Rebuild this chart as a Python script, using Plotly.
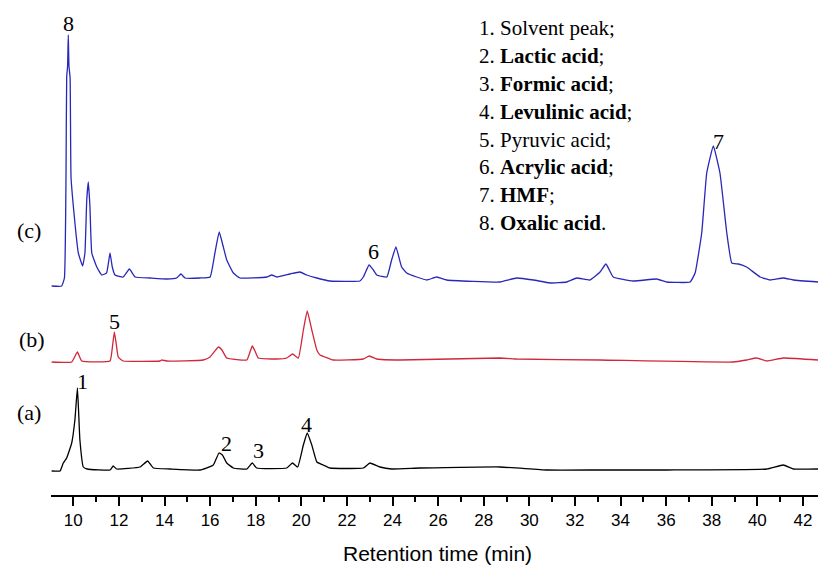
import plotly.graph_objects as go

# ---- data: retention time (min) and detector signal (arbitrary units above each trace's baseline)
t_a = [9.05, 9.42, 9.56, 9.71, 9.93, 10.07, 10.18, 10.23, 10.29, 10.44, 10.61, 11.61, 11.75, 11.90,
       12.93, 13.26, 13.51, 14.24, 15.56, 16.14, 16.39, 16.54, 16.73, 17.02, 17.61, 17.85, 18.04,
       19.36, 19.61, 19.84, 20.09, 20.26, 20.46, 20.68, 20.96, 21.26, 22.72, 23.01, 23.45, 23.96,
       25.21, 28.71, 30.76, 33.10, 36.03, 40.41, 41.14, 41.58, 42.66]
s_a = [-1, -1, 7, 12, 27, 50, 82, 60, 30, 3, 1, 0, 4, 1,
       3, 9, 2, 1, 0, 5, 17, 15, 7, 2, 1, 7, 2,
       2, 7, 3, 25, 37, 25, 8, 5, 2, 2, 7, 3, 1,
       2, 3, 0, 0, 0, 1, 5, 1, 1]

t_b = [9.05, 9.93, 10.18, 10.37, 11.61, 11.70, 11.80, 11.89, 11.97, 12.19, 13.80, 13.88, 14.10,
       15.70, 16.00, 16.36, 16.52, 16.73, 17.61, 17.75, 17.85, 17.97, 18.11, 18.92, 19.36, 19.62,
       19.87, 20.09, 20.26, 20.46, 20.68, 20.82, 21.04, 21.40, 22.72, 22.98, 23.31, 24.33, 28.71,
       29.45, 33.10, 38.93, 39.53, 39.97, 40.41, 41.14, 42.66]
s_b = [-1, -1, 9, 0, 0, 11, 29, 16, 4, 0, 0, 1, 0,
       1, 4, 14, 11, 3, 1, 9, 15, 10, 3, 2, 3, 7,
       3, 31, 50, 31, 11, 6, 4, 1, 2, 5, 2, 1, 3,
       2, 1, -1, 1, 3, 0, 3, 1]

t_c = [9.05, 9.49, 9.61, 9.68, 9.71, 9.75, 9.78, 9.81, 9.86, 9.90, 10.03, 10.22, 10.41, 10.51, 10.59, 10.66,
       10.73, 10.81, 11.03, 11.25, 11.46, 11.54, 11.61, 11.71, 11.83, 12.19, 12.46, 12.71, 13.36,
       14.10, 14.53, 14.72, 14.90, 15.56, 16.00, 16.21, 16.40, 16.58, 16.73, 17.02, 17.31, 18.48,
       18.70, 18.92, 19.50, 19.94, 20.24, 20.68, 21.26, 22.57, 22.72, 22.97, 23.16, 23.31, 23.75,
       23.96, 24.15, 24.40, 24.62, 25.06, 25.50, 25.94, 26.38, 28.71, 29.45, 30.18, 30.91, 31.64,
       32.08, 32.66, 33.10, 33.36, 33.68, 34.56, 35.59, 36.03, 37.05, 37.27, 37.56, 37.78, 38.07,
       38.36, 38.66, 38.88, 39.17, 39.53, 40.12, 40.56, 41.14, 41.58, 42.66]
s_c = [-8, -8, 0, 101, 201, 212, 243, 212, 200, 101, 65, 25, 12, 25, 78, 96,
       71, 25, 11, 3, 5, 15, 25, 11, 3, 1, 9, 1, 0,
       -1, 0, 4, 0, 0, 1, 25, 46, 31, 18, 5, 0, 1,
       3, 1, 4, 6, 3, 0, -3, -3, 1, 13, 8, 3, 1,
       18, 31, 11, 5, 1, -2, 1, -2, -4, 0, -2, -5, -4,
       0, -2, 6, 14, 1, -3, -1, -4, -4, 5, 45, 105, 132,
       105, 45, 15, 14, 11, 1, -2, 0, -2, -4]

peak_labels = ["8", "1", "5", "2", "3", "4", "6", "7"]
peak_times = [9.78, 10.41, 11.80, 16.73, 18.11, 20.24, 23.16, 38.29]
trace_labels = ["(c)", "(b)", "(a)"]
x_title = "Retention time (min)"
legend_lines = [
    "1. Solvent peak;",
    "2. <b>Lactic acid</b>;",
    "3. <b>Formic acid</b>;",
    "4. <b>Levulinic acid</b>;",
    "5. Pyruvic acid;",
    "6. <b>Acrylic acid</b>;",
    "7. <b>HMF</b>;",
    "8. <b>Oxalic acid</b>.",
]

# vertical offsets (stacking) for the three chromatograms
off_a, off_b, off_c = 25, 134, 217

fig = go.Figure()
for t, s, off, col in [(t_a, s_a, off_a, "#000000"),
                       (t_b, s_b, off_b, "#d0283a"),
                       (t_c, s_c, off_c, "#2828b8")]:
    fig.add_trace(go.Scatter(x=t, y=[v + off for v in s], mode="lines",
                             line=dict(color=col, width=1.3, shape="spline", smoothing=0.35),
                             showlegend=False, hoverinfo="skip"))

serif = "Liberation Serif, Times New Roman, serif"
sans = "Liberation Sans, Arial, sans-serif"
peak_y = [472, 113.3, 173.3, 51.7, 44.3, 71, 243.3, 353.3]
for lab, x, y in zip(peak_labels, peak_times, peak_y):
    fig.add_annotation(x=x, y=y, text=lab, showarrow=False, xanchor="center", yanchor="middle",
                       font=dict(family=serif, size=22, color="black"))

# sample labels sit left of the plotting area -> paper x coordinates (negative = margin)
for lab, x, y in zip(trace_labels, [-0.0283, -0.0244, -0.0281], [265, 156, 83]):
    fig.add_annotation(x=x, xref="paper", y=y, text=lab, showarrow=False,
                       xanchor="center", yanchor="middle",
                       font=dict(family=serif, size=22, color="black"))

for i, line in enumerate(legend_lines):
    fig.add_annotation(x=27.69, y=466.7 - 27.8 * i, text=line, showarrow=False,
                       xanchor="left", yanchor="middle",
                       font=dict(family=serif, size=21, color="black"))

# x-axis title placed as paper annotation below the tick labels
fig.add_annotation(x=0.504, xref="paper", y=-0.118, yref="paper", text=x_title, showarrow=False,
                   xanchor="center", yanchor="middle",
                   font=dict(family=sans, size=21, color="black"))

fig.update_layout(
    width=818, height=566,
    margin=dict(l=51, r=0, t=0, b=71, autoexpand=False),
    plot_bgcolor="white", paper_bgcolor="white",
    xaxis=dict(range=[9.022, 42.66], showgrid=False, zeroline=False, automargin=False,
               showline=True, linecolor="black", linewidth=2,
               ticks="outside", ticklen=9, tickwidth=1.8, tickcolor="black",
               dtick=2, tick0=10,
               minor=dict(dtick=1, tick0=9, ticks="outside", ticklen=5, tickwidth=1.5, tickcolor="black"),
               tickfont=dict(family=sans, size=17, color="black")),
    yaxis=dict(range=[0, 495], visible=False, automargin=False),
)

fig.write_html("out.html", config={"displayModeBar": False},
               post_script="document.body.style.margin='0px';")
